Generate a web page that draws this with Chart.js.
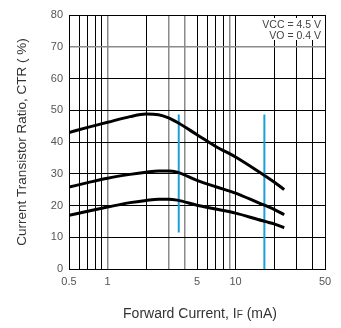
<!DOCTYPE html>
<html>
<head>
<meta charset="utf-8">
<script src="https://cdn.jsdelivr.net/npm/chart.js@4"></script>
<style>
  html, body { margin: 0; padding: 0; background: #fff; }
  #wrap { width: 341px; height: 328px; position: relative; }
</style>
</head>
<body>
<div id="wrap"><canvas id="ctrChart"></canvas></div>
<script>
// forward current (mA) sample points
const current   = [0.5, 0.7, 1, 1.5, 2, 2.5, 3, 3.5, 5, 7, 10, 15, 20, 24];
const ctrHigh   = [43.0, 44.6, 46.2, 48.0, 48.8, 48.6, 47.6, 46.2, 42.3, 38.6, 35.3, 30.8, 27.4, 25.0];
const ctrMid    = [25.8, 27.2, 28.6, 29.8, 30.5, 30.9, 30.9, 30.5, 27.9, 25.9, 23.9, 20.9, 18.8, 17.1];
const ctrLow    = [16.9, 18.2, 19.5, 20.9, 21.6, 22.0, 22.0, 21.7, 20.1, 18.9, 17.6, 15.6, 14.2, 13.0];

// blue markers
const markerX      = [3.6, 16.8];
const markerTop    = [48.7, 48.7];
const markerBottom = [11.5, 0];

const xTicks      = [0.5, 0.6, 0.7, 0.8, 0.9, 1, 2, 3, 4, 5, 6, 7, 8, 9, 10, 20, 30, 40, 50];
const xLabels     = [0.5, 1, 5, 10, 50];
const xGreyLines  = [1, 3, 4, 9];
const yGreyLines  = [25, 35, 45, 65, 70, 75];
const noteLines   = ['VCC = 4.5 V', 'VO = 0.4 V'];

const pts = ys => current.map((x, i) => ({ x, y: ys[i] }));
const curve = ys => ({
  data: pts(ys),
  borderColor: '#000',
  borderWidth: 3,
  pointRadius: 0,
  tension: 0.4,
  cubicInterpolationMode: 'monotone',
  fill: false,
});
const marker = i => ({
  data: [{ x: markerX[i], y: markerTop[i] }, { x: markerX[i], y: markerBottom[i] }],
  borderColor: '#1e9fd8',
  borderWidth: 2,
  pointRadius: 0,
  fill: false,
});

const notePlugin = {
  id: 'note',
  afterDatasetsDraw(chart) {
    const { ctx, chartArea } = chart;
    ctx.save();
    ctx.fillStyle = '#fff';
    ctx.fillRect(258, 18, chartArea.right - 3 - 258, 22);
    ctx.fillStyle = '#444';
    ctx.font = '10.5px "Liberation Sans", Arial, sans-serif';
    ctx.textAlign = 'right';
    ctx.textBaseline = 'middle';
    ctx.fillText(noteLines[0], 321, 25);
    ctx.fillText(noteLines[1], 321, 36);

    // x axis title with subscript F
    ctx.fillStyle = '#333';
    ctx.textBaseline = 'alphabetic';
    ctx.textAlign = 'left';
    const big = '14px "Liberation Sans", Arial, sans-serif';
    const small = '10px "Liberation Sans", Arial, sans-serif';
    const parts = [['Forward Current, I', big], ['F', small], [' (mA)', big]];
    let w = 0;
    parts.forEach(p => { ctx.font = p[1]; w += ctx.measureText(p[0]).width; });
    let x = 200 - w / 2;
    parts.forEach(p => { ctx.font = p[1]; ctx.fillText(p[0], x, 318); x += ctx.measureText(p[0]).width; });
    ctx.restore();
  }
};

new Chart(document.getElementById('ctrChart'), {
  type: 'line',
  data: { datasets: [curve(ctrHigh), curve(ctrMid), curve(ctrLow), marker(0), marker(1)] },
  options: {
    responsive: true,
    maintainAspectRatio: false,
    animation: false,
    layout: { padding: { left: 0, top: 15, right: 16, bottom: 0 } },
    plugins: { legend: { display: false }, tooltip: { enabled: false } },
    scales: {
      x: {
        type: 'logarithmic',
        min: 0.5,
        max: 50,
        afterBuildTicks: s => { s.ticks = xTicks.map(v => ({ value: v })); },
        afterFit: s => { s.height = 59; },
        border: { color: '#000', width: 1 },
        grid: {
          drawTicks: false,
          color: c => xGreyLines.includes(c.tick && c.tick.value) ? '#8a8a8a' : '#000',
          lineWidth: c => xGreyLines.includes(c.tick && c.tick.value) ? 1.5 : 1,
        },
        ticks: {
          autoSkip: false,
          maxRotation: 0,
          padding: 6,
          color: '#555',
          font: { family: '"Liberation Sans", Arial, sans-serif', size: 11 },
          callback: v => xLabels.includes(v) ? String(v) : '',
        },
      },
      y: {
        min: 0,
        max: 80,
        afterFit: s => { s.width = 69; },
        border: { color: '#000', width: 1 },
        grid: {
          drawTicks: false,
          color: c => yGreyLines.includes(c.tick && c.tick.value) ? '#8a8a8a' : '#000',
          lineWidth: c => yGreyLines.includes(c.tick && c.tick.value) ? 1.5 : 1,
        },
        ticks: {
          stepSize: 5,
          padding: 6,
          color: '#555',
          font: { family: '"Liberation Sans", Arial, sans-serif', size: 11 },
          callback: v => v % 10 === 0 ? String(v) : '',
        },
        title: {
          display: true,
          text: 'Current Transistor Ratio, CTR ( %)',
          color: '#333',
          font: { family: '"Liberation Sans", Arial, sans-serif', size: 13.5 },
          padding: { top: 14, bottom: 0 },
        },
      },
    },
  },
  plugins: [notePlugin],
});
</script>
</body>
</html>
